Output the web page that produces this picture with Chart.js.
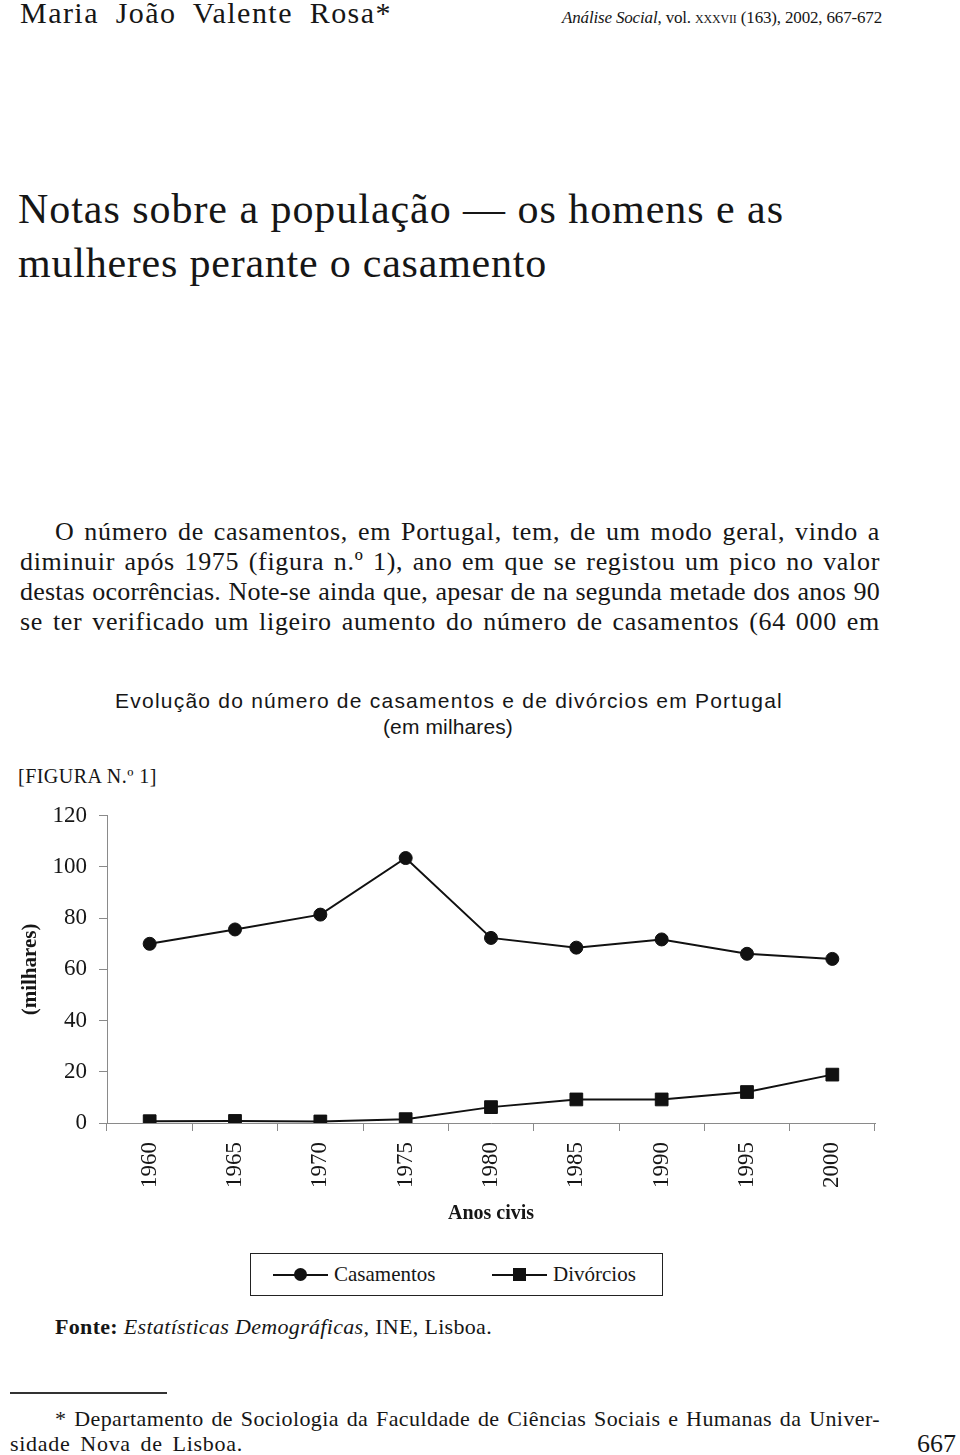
<!DOCTYPE html>
<html lang="pt">
<head>
<meta charset="utf-8">
<title>Evolução do número de casamentos e de divórcios em Portugal</title>
<script src="https://cdn.jsdelivr.net/npm/chart.js@4.4.1/dist/chart.umd.min.js"></script>
<style>
  html, body { margin: 0; padding: 0; background: #fff; }
  body { position: relative; width: 960px; height: 1455px; overflow: hidden; color: #161616;
         font-family: "Liberation Serif", "Times New Roman", serif; }
  .t { position: absolute; white-space: nowrap; line-height: 1; }
  .sans { font-family: "Liberation Sans", Arial, sans-serif; }
  #chartBox { position: absolute; left: 0; top: 790px; width: 960px; height: 436px; }
  #legend { position: absolute; left: 250px; top: 1253px; width: 413px; height: 43px; box-sizing: border-box;
            border: 1.5px solid #222; display: flex; align-items: center; padding-left: 22px; font-size: 21px; }
  #legend .item { display: inline-flex; align-items: center; }
  #legend .item:first-child { width: 219px; }
  #legend .sym { position: relative; display: inline-block; width: 55px; height: 2px; background: #111; margin-right: 6px; }
  #legend .mk { position: absolute; left: 21px; top: -5.5px; width: 13px; height: 13px; background: #111; }
  #legend .ci { border-radius: 50%; }
  .rule { position: absolute; left: 10px; top: 1392px; width: 157px; height: 2px; background: #333; }
</style>
</head>
<body>

<div class="t fit" data-mode="mix" data-w="372" style="left:20px;top:-2px;font-size:30px;">Maria João Valente Rosa*</div>
<div class="t fit" data-mode="ls" data-w="320" style="left:562px;top:9px;font-size:17px;"><i>Análise Social</i>, vol. <span style="font-variant:small-caps">xxxvii</span> (163), 2002, 667-672</div>

<div class="t fit" data-mode="ls" data-w="766" style="left:18px;top:188px;font-size:42px;">Notas sobre a população — os homens e as</div>
<div class="t fit" data-mode="ls" data-w="529" style="left:18px;top:242px;font-size:42px;">mulheres perante o casamento</div>

<div class="t fit" data-mode="mix" data-w="825" style="left:55px;top:519px;font-size:26px;">O número de casamentos, em Portugal, tem, de um modo geral, vindo a</div>
<div class="t fit" data-mode="mix" data-w="860" style="left:20px;top:549px;font-size:26px;">diminuir após 1975 (figura n.º 1), ano em que se registou um pico no valor</div>
<div class="t fit" data-mode="mix" data-w="860" style="left:20px;top:579px;font-size:26px;">destas ocorrências. Note-se ainda que, apesar de na segunda metade dos anos 90</div>
<div class="t fit" data-mode="mix" data-w="860" style="left:20px;top:609px;font-size:26px;">se ter verificado um ligeiro aumento do número de casamentos (64 000 em</div>

<div class="t sans fit" data-mode="ls" data-w="668" style="left:115px;top:690px;font-size:21px;">Evolução do número de casamentos e de divórcios em Portugal</div>
<div class="t sans fit" data-mode="ls" data-w="130" style="left:383px;top:716px;font-size:21px;">(em milhares)</div>

<div class="t fit" data-mode="ls" data-w="139" style="left:18px;top:766px;font-size:20px;">[FIGURA N.º 1]</div>

<div id="chartBox"><canvas id="myChart"></canvas></div>

<div id="legend"></div>

<div class="t fit" data-mode="ls" data-w="437" style="left:55px;top:1316px;font-size:22px;"><b>Fonte:</b> <i>Estatísticas Demográficas,</i> INE, Lisboa.</div>

<div class="rule"></div>
<div class="t fit" data-mode="mix" data-w="825" style="left:55px;top:1408px;font-size:22px;">* Departamento de Sociologia da Faculdade de Ciências Sociais e Humanas da Univer-</div>
<div class="t fit" data-mode="mix" data-w="233" style="left:10px;top:1433px;font-size:22px;">sidade Nova de Lisboa.</div>
<div class="t" style="left:917px;top:1431px;font-size:26px;">667</div>

<script>
// data (milhares)
var anos = ['1960', '1965', '1970', '1975', '1980', '1985', '1990', '1995', '2000'];
var casamentos = [70.0, 75.6, 81.4, 103.5, 72.3, 68.5, 71.7, 66.1, 64.1];
var divorcios = [0.7, 0.8, 0.6, 1.5, 6.2, 9.2, 9.2, 12.1, 18.9];
var yMin = 0, yMax = 120, yStep = 20;

var serif = '"Liberation Serif", "Times New Roman", serif';
var axisGrey = '#8a8a8a';

var ctx = document.getElementById("myChart");
var myChart = new Chart(ctx, {
    type: 'line',
    data: {
        labels: anos,
        datasets: [{
            label: 'Casamentos',
            data: casamentos,
            borderColor: '#111',
            backgroundColor: '#111',
            borderWidth: 2,
            pointStyle: 'circle',
            pointRadius: 6.5,
            pointBorderWidth: 1,
            tension: 0
        }, {
            label: 'Divórcios',
            data: divorcios,
            borderColor: '#111',
            backgroundColor: '#111',
            borderWidth: 2,
            pointStyle: 'rect',
            pointRadius: 9,
            pointBorderWidth: 1,
            tension: 0
        }]
    },
    options: {
        responsive: true,
        maintainAspectRatio: false,
        animation: false,
        layout: { padding: { top: 22, right: 85, left: 0, bottom: 0 } },
        plugins: {
            legend: { display: false },
            tooltip: { enabled: false }
        },
        scales: {
            x: {
                offset: true,
                grid: { offset: true, drawOnChartArea: false, color: axisGrey, tickLength: 8 },
                border: { color: axisGrey },
                ticks: { minRotation: 90, maxRotation: 90, padding: 11, color: '#161616',
                         font: { family: serif, size: 23 } },
                title: { display: true, text: 'Anos civis', color: '#161616', padding: 0,
                         font: { family: serif, size: 20, weight: 'bold' } },
                afterFit: function (s) { s.height = 103; }
            },
            y: {
                min: yMin,
                max: yMax,
                grid: { drawOnChartArea: false, color: axisGrey, tickLength: 8 },
                border: { color: axisGrey },
                ticks: { stepSize: yStep, padding: 12, color: '#161616',
                         font: { family: serif, size: 23 } },
                title: { display: true, text: '(milhares)', color: '#161616', padding: { top: 18, bottom: 0 },
                         font: { family: serif, size: 21, weight: 'bold' } },
                afterFit: function (s) { s.width = 107; }
            }
        }
    }
});

// legend built from the datasets
var leg = document.getElementById('legend');
myChart.data.datasets.forEach(function (ds) {
    var item = document.createElement('span');
    item.className = 'item';
    var sym = document.createElement('span');
    sym.className = 'sym';
    var mk = document.createElement('span');
    mk.className = ds.pointStyle === 'rect' ? 'mk sq' : 'mk ci';
    sym.appendChild(mk);
    item.appendChild(sym);
    item.appendChild(document.createTextNode(ds.label));
    leg.appendChild(item);
});

// stretch text lines to the widths of the scanned page
// (the scan's typeface is wider than Liberation Serif)
function fitAll() {
    document.querySelectorAll('.fit').forEach(function (el) {
        el.style.wordSpacing = '';
        el.style.letterSpacing = '';
        var target = +el.dataset.w;
        var txt = el.textContent;
        var n = (txt.match(/ /g) || []).length;
        var w = el.getBoundingClientRect().width;
        var mode = el.dataset.mode || 'ws';
        if (mode === 'ls' || mode === 'mix') {
            var share = mode === 'ls' ? 1 : 0.6;
            el.style.letterSpacing = (share * (target - w) / txt.length) + 'px';
            w = el.getBoundingClientRect().width;
        }
        if (mode !== 'ls' && n) el.style.wordSpacing = ((target - w) / n) + 'px';
    });
}
fitAll();
if (document.fonts && document.fonts.ready) document.fonts.ready.then(fitAll);
</script>
</body>
</html>
